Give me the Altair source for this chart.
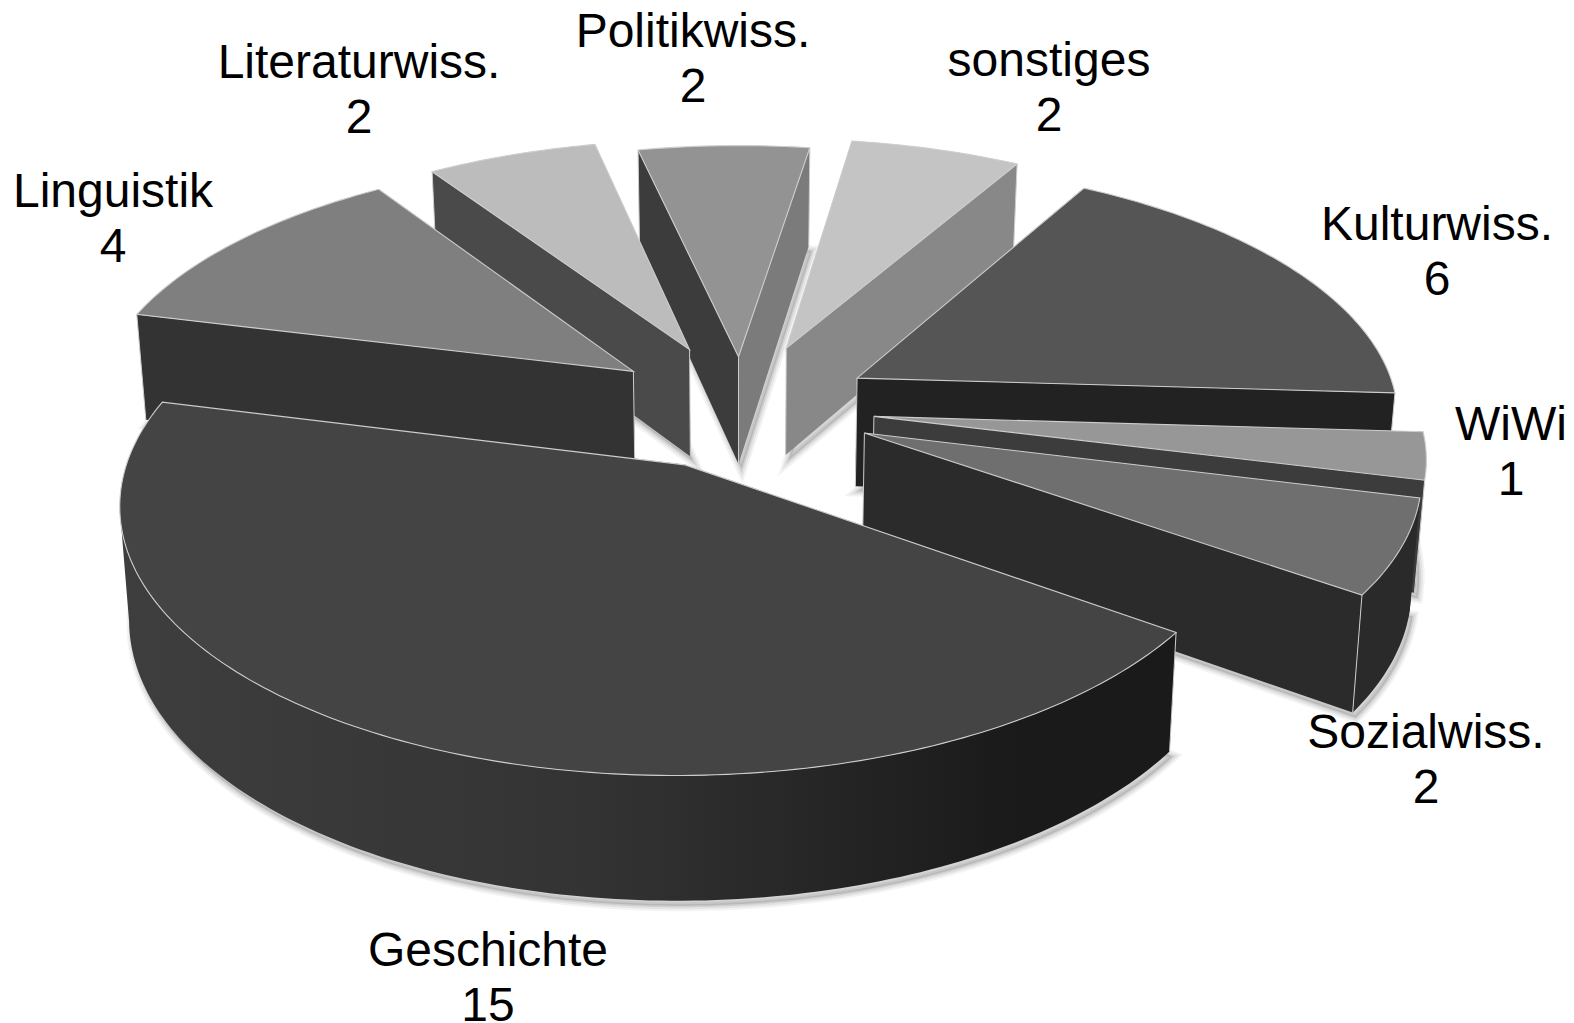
import math
import altair as alt

# ---- chart values
categories = ["Geschichte", "Linguistik", "Literaturwiss.", "Politikwiss.",
              "sonstiges", "Kulturwiss.", "WiWi", "Sozialwiss."]
values = [15, 4, 2, 2, 2, 6, 1, 2]

# ---- per-slice colours
top_colors = ["#444444", "#7f7f7f", "#bcbcbc", "#939393", "#c4c4c4", "#555555", "#979797", "#6f6f6f"]
start_wall = ["#222222", "#333333", "#4a4a4a", "#3c3c3c", "#888888", "#222222", "#3c3c3c", "#2b2b2b"]
end_wall = ["#1a1a1a", "#333333", "#4a4a4a", "#7b7b7b", "#888888", "#222222", "#3c3c3c", "#2b2b2b"]
side_colors = ["#2e2e2e", "#333333", "#4a4a4a", "#3c3c3c", "#888888", "#222222", "#3c3c3c", "#2a2a2a"]
explode = [0.245, 0.25, 0.255, 0.205, 0.255, 0.245, 0.245, 0.245]
paint_order = [3, 2, 1, 4, 5, 6, 7, 0]

# ---- label block centres (page pixels)
label_x = [488, 113, 359, 693, 1049, 1437, 1511, 1426]
label_y = [952, 193, 64, 33, 62, 226, 426, 734]

# ---- pie geometry
CX, CY, R, RK, P, H, Q = 742.0, 407.0, 542.0, 252.0, 0.134, 111.0, 0.015
FIRST_ANGLE = 125.2
EDGE = "#cdcdcd"
BIG = 0  # index of the slice with the shaded outer side


def project(x, y, z=0.0):
    s = (1 + Q * z) / (1 - P * y)
    return [CX + R * x * s, CY + RK * y * s - H * z * s]


def rim(theta):
    t = math.radians(theta)
    return math.sin(t), -math.cos(t)


def feature(kind, coords, fill, stroke="transparent", width=0.0):
    return {"type": "Feature",
            "geometry": {"type": kind, "coordinates": coords},
            "properties": {"fill": fill, "stroke": stroke, "w": width}}


def front_runs(pts):
    """Runs of rim points whose outer band faces the viewer."""
    runs, cur = [], []
    for p, q in zip(pts, pts[1:]):
        if project(*q, 0)[0] < project(*p, 0)[0]:
            cur = cur or [p]
            cur.append(q)
        elif cur:
            runs.append(cur)
            cur = []
    if cur:
        runs.append(cur)
    return runs


total = sum(values)
starts = []
a = FIRST_ANGLE
for v in values:
    starts.append(a)
    a += 360.0 * v / total

features = []   # everything painted before the big slice's outer side
big_side = []
big_top = []
for i in paint_order:
    out = features
    a0 = starts[i]
    sweep = 360.0 * values[i] / total
    a1 = a0 + sweep
    ex, ey = rim(a0 + sweep / 2)
    ox, oy = ex * explode[i], ey * explode[i]
    n = max(8, int(sweep))
    angles = [a0 + sweep * j / n for j in range(n + 1)]
    pts = [(ox + rim(t)[0], oy + rim(t)[1]) for t in angles]

    def wall(px, py):
        return [[project(ox, oy, 0), project(px, py, 0), project(px, py, -1), project(ox, oy, -1), project(ox, oy, 0)]]

    # soft shadow of the footprint
    foot = [project(ox, oy, -1)] + [project(*p, -1) for p in pts] + [project(ox, oy, -1)]
    foot = [[x + 3, y + 5] for x, y in foot]
    for w, alpha in ((11, 0.07), (7, 0.10), (3, 0.14)):
        out.append(feature("Polygon", [foot], "rgba(90,90,90,0.2)" if w == 3 else "transparent",
                           f"rgba(90,90,90,{alpha})", w))

    start_front = -math.sin(math.radians(a0)) > 0
    end_front = math.sin(math.radians(a1)) > 0
    if not start_front:
        out.append(feature("Polygon", wall(*pts[0]), start_wall[i]))
    if not end_front:
        out.append(feature("Polygon", wall(*pts[-1]), end_wall[i]))
    # outer cylinder side, front-facing part only
    for run in front_runs(pts):
        side = [project(*p, 0) for p in run] + [project(*p, -1) for p in reversed(run)]
        side.append(side[0])
        if i == BIG:
            big_side.append(feature("Polygon", [side], side_colors[i]))
        else:
            out.append(feature("Polygon", [side], side_colors[i]))
    if i == BIG:
        out = big_top
    if start_front:
        out.append(feature("Polygon", wall(*pts[0]), start_wall[i]))
    if end_front:
        out.append(feature("Polygon", wall(*pts[-1]), end_wall[i]))
    # vertical light edges
    if start_front or i == BIG:
        out.append(feature("LineString", [project(*pts[0], 0), project(*pts[0], -1)], "transparent", EDGE, 1.0))
    if end_front:
        out.append(feature("LineString", [project(*pts[-1], 0), project(*pts[-1], -1)], "transparent", EDGE, 1.0))
    if i != BIG:
        out.append(feature("LineString", [project(ox, oy, 0), project(ox, oy, -1)], "transparent", EDGE, 1.0))
    # top face
    top = [project(ox, oy, 0)] + [project(*p, 0) for p in pts] + [project(ox, oy, 0)]
    out.append(feature("Polygon", [top], top_colors[i], EDGE, 1.1))

W, H_PAGE = 1558, 1015
PROJ = dict(type="identity", scale=1, translate=[-8, -8])


def shapes(rows):
    return alt.Chart(alt.Data(values=rows)).mark_geoshape(filled=True).encode(
        fill=alt.Fill("properties.fill:N", scale=None, legend=None),
        stroke=alt.Stroke("properties.stroke:N", scale=None, legend=None),
        strokeWidth=alt.StrokeWidth("properties.w:Q", scale=None, legend=None),
    ).project(**PROJ)


big_gradient = alt.LinearGradient(
    gradient="linear", x1=0, x2=1, y1=0, y2=0,
    stops=[alt.GradientStop(color="#3e3e3e", offset=0),
           alt.GradientStop(color="#333333", offset=0.45),
           alt.GradientStop(color="#1a1a1a", offset=0.85),
           alt.GradientStop(color="#1a1a1a", offset=1)],
)
big_layer = alt.Chart(alt.Data(values=big_side)).mark_geoshape(
    filled=True, fill=big_gradient, strokeWidth=0).project(**PROJ)

labels = alt.Chart(alt.Data(values=[
    {"t": f"{c}\n{v}", "x": x, "y": y}
    for c, v, x, y in zip(categories, values, label_x, label_y)
])).mark_text(font="Liberation Sans", fontSize=48, lineBreak="\n", lineHeight=55,
              align="center", baseline="middle", color="#000000").encode(
    x=alt.X("x:Q", scale=alt.Scale(domain=[8, 8 + W], nice=False, zero=False), axis=None),
    y=alt.Y("y:Q", scale=alt.Scale(domain=[8 + H_PAGE, 8], nice=False, zero=False), axis=None),
    text="t:N",
)

chart = alt.layer(shapes(features), big_layer, shapes(big_top), labels).properties(
    width=W, height=H_PAGE, padding=0, autosize=alt.AutoSizeParams(type="none"),
    background="#ffffff",
).configure_view(stroke=None)

chart.save("out.html", embed_options={"renderer": "svg", "actions": False})
